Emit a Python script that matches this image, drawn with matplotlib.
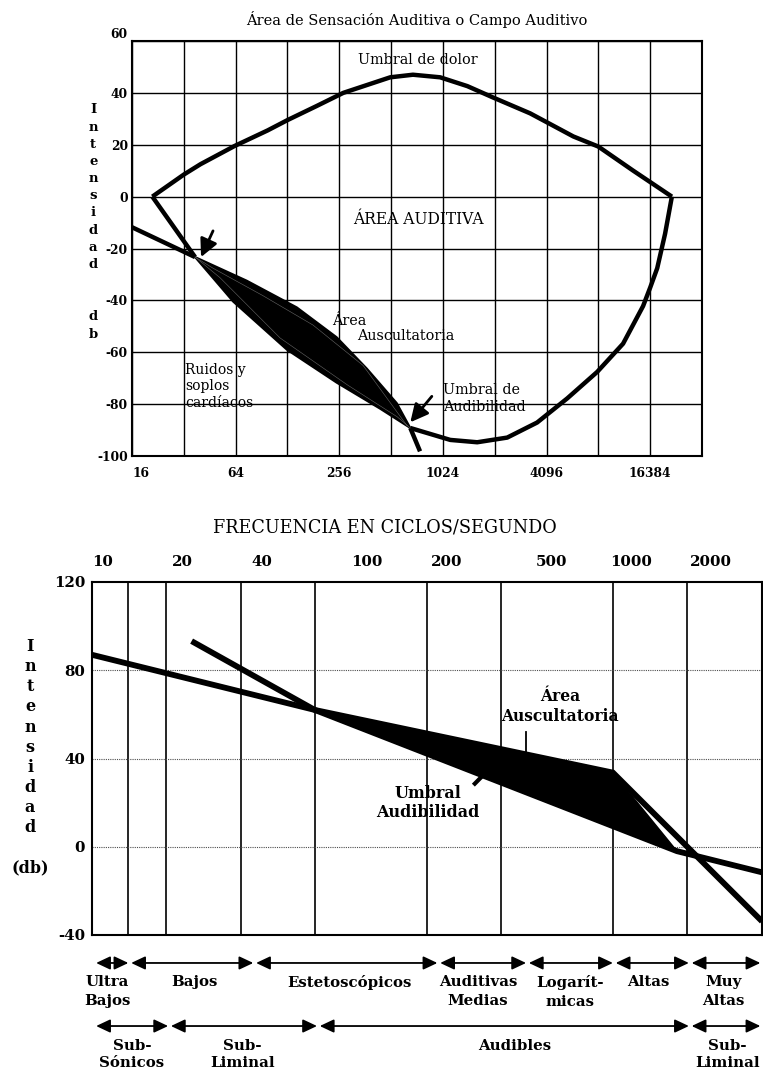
import numpy as np
import matplotlib
matplotlib.use("Agg")
import matplotlib.pyplot as plt

plt.rcParams['font.family'] = ['DejaVu Serif']

# ---------------- top chart data (Hz, dB) ----------------
pain_hz = [21, 32, 40, 63, 98, 128, 190, 270, 506, 686, 987, 1420, 2006, 3290, 4130, 5860, 8190, 13060, 21900]
pain_db = [0, 8.5, 12.5, 19.5, 25.5, 29.5, 35, 40, 46, 47, 46, 42.6, 38.2, 32.1, 28.6, 23.2, 19.3, 10, 0]

bowl_hz = [21900, 20000, 18000, 16400, 14900, 11400, 8060, 5400, 3610, 2420, 1620, 1130, 662]
bowl_db = [0, -14.3, -27.6, -35, -42.2, -56.7, -67.6, -77.8, -87.1, -92.9, -94.7, -93.8, -89.2]

left_branch_hz = [21, 37.2]
left_branch_db = [0, -23.3]

line2_hz = [16, 37.2]
line2_db = [-11.8, -23.3]
tail_hz = [662, 754]
tail_db = [-89.2, -98.2]

# auscultatory lens (outline and the faint inner strokes)
lens_up_hz = [37.2, 74.2, 145, 247, 370, 552, 662]
lens_up_db = [-23.3, -32.4, -42.7, -54.2, -66.3, -79.6, -89.2]
lens_lo_hz = [37.2, 62, 127, 247, 443, 662]
lens_lo_db = [-23.3, -40.5, -59, -71.7, -81.8, -89.2]
inner1_hz = [37.2, 47.3, 92.3, 180, 352, 635]
inner1_db = [-23.3, -27.6, -38.2, -49.5, -65.1, -88.4]
inner2_hz = [37.2, 52, 116, 284, 556, 662]
inner2_db = [-23.3, -31.3, -54.5, -72.5, -84.9, -89.2]

top_xticks = [16, 64, 256, 1024, 4096, 16384]
octaves = [16 * 2 ** k for k in range(12)]
top_yticks = list(range(-100, 61, 20))

# ---------------- bottom chart data (Hz, dB) ----------------
lineA_hz = [9.11, 63.5, 853, 3126]
lineA_db = [87, 62, 33.6, -33.8]
lineB_hz = [21.7, 63.5, 1490, 3126]
lineB_db = [93.2, 62, -2, -11.6]
wedge_hz = [63.5, 853, 1490]
wedge_db = [62, 33.6, -2]

bot_xticks = [10, 20, 40, 100, 200, 500, 1000, 2000]
bot_vlines = [12.5, 17.3, 33.3, 63.5, 169, 322, 853, 1630]
bot_yticks = [-40, 0, 40, 80, 120]

row1_bounds = [9.33, 12.66, 37.6, 187, 405, 863, 1673, 3120]
row1_labels = ["Ultra\nBajos", "Bajos", "Estetoscópicos", "Auditivas\nMedias",
               "Logarít-\nmicas", "Altas", "Muy\nAltas"]
row1_pos = [10.4, 22.3, 86, 263, 588, 1160, 2230]
row2_bounds = [9.33, 17.9, 65.5, 1673, 3120]
row2_labels = ["Sub-\nSónicos", "Sub-\nLiminal", "Audibles", "Sub-\nLiminal"]
row2_pos = [12.9, 33.9, 363, 2310]

W, H = 763, 1077
fig = plt.figure(figsize=(W / 100, H / 100), dpi=100)

# ================= top chart =================
ax1 = fig.add_axes([132 / W, 1 - 456 / H, 570 / W, 415 / H])
ax1.set_xscale('log', base=2)
ax1.set_xlim(16, 32768)
ax1.set_ylim(-100, 60)
ax1.set_xticks(octaves)
ax1.set_xticklabels([str(v) if v in top_xticks else '' for v in octaves],
                    fontsize=8.8, fontweight='bold')
ax1.xaxis.set_minor_locator(matplotlib.ticker.NullLocator())
ax1.set_yticks(top_yticks)
ax1.set_yticklabels([str(v) for v in top_yticks], fontsize=8.8, fontweight='bold')
ax1.tick_params(length=0, pad=3)
ax1.tick_params(axis='x', pad=8)
ax1.xaxis.get_ticklabels()[0].set_horizontalalignment('left')
ax1.yaxis.get_ticklabels()[-1].set_verticalalignment('bottom')
ax1.grid(True, color='black', lw=1.0)
for s in ax1.spines.values():
    s.set_linewidth(1.5)

ax1.plot(pain_hz, pain_db, color='black', lw=3.2, solid_joinstyle='round', solid_capstyle='butt')
ax1.plot(bowl_hz, bowl_db, color='black', lw=3.2, solid_joinstyle='round', solid_capstyle='butt')
ax1.plot(left_branch_hz, left_branch_db, color='black', lw=3.2, solid_capstyle='butt')
ax1.plot(line2_hz, line2_db, color='black', lw=3.2, solid_capstyle='butt')
ax1.plot(tail_hz, tail_db, color='black', lw=3.2, solid_capstyle='butt')
lens_x = lens_up_hz + lens_lo_hz[::-1]
lens_y = lens_up_db + lens_lo_db[::-1]
ax1.fill(lens_x, lens_y, color='black', lw=1.5, zorder=3)
ax1.plot(inner1_hz, inner1_db, color='0.4', lw=0.4, zorder=4)
ax1.plot(inner2_hz, inner2_db, color='0.4', lw=0.4, zorder=4)

arrow_kw = dict(arrowstyle='-|>,head_length=0.9,head_width=0.45', color='black', lw=2,
                mutation_scale=12, shrinkA=0, shrinkB=0)
ax1.annotate('', xy=(40.3, -23.3), xytext=(47.3, -13.2), arrowprops=arrow_kw)
ax1.annotate('', xy=(662, -87), xytext=(883, -77), arrowprops=arrow_kw)

ax1.text(735, 52.8, "Umbral de dolor", ha='center', va='center', fontsize=10.4)
ax1.text(735, -8.9, "ÁREA AUDITIVA", ha='center', va='center', fontsize=11.2)
ax1.text(232, -48, "Área", ha='left', va='center', fontsize=10.4)
ax1.text(324, -53.8, "Auscultatoria", ha='left', va='center', fontsize=10.4)
ax1.text(32.5, -64, "Ruidos y\nsoplos\ncardíacos", ha='left', va='top', fontsize=10, linespacing=1.25)
ax1.text(1024, -72, "Umbral de\nAudibilidad", ha='left', va='top', fontsize=10.4, linespacing=1.2)

for i, ch in enumerate("Intensidad"):
    ax1.text(-0.068, 0.834 - i * 0.0414, ch, transform=ax1.transAxes,
             ha='center', va='center', fontsize=9.5, fontweight='bold')
ax1.text(-0.068, 0.335, "d", transform=ax1.transAxes, ha='center', va='center', fontsize=9.5, fontweight='bold')
ax1.text(-0.068, 0.292, "b", transform=ax1.transAxes, ha='center', va='center', fontsize=9.5, fontweight='bold')

fig.text(417 / W, 1 - 20 / H, "Área de Sensación Auditiva o Campo Auditivo",
         ha='center', va='center', fontsize=10.5)
fig.text(385 / W, 1 - 527 / H, "FRECUENCIA EN CICLOS/SEGUNDO",
         ha='center', va='center', fontsize=12.7)

# ================= bottom chart =================
ax2 = fig.add_axes([92 / W, 1 - 935 / H, 670 / W, 353 / H])
ax2.set_xscale('log')
ax2.set_xlim(9.11, 3126)
ax2.set_ylim(-40, 120)
ax2.xaxis.tick_top()
ax2.set_xticks(bot_xticks)
ax2.set_xticklabels([str(v) for v in bot_xticks], fontsize=10.8, fontweight='bold')
ax2.xaxis.set_minor_locator(matplotlib.ticker.NullLocator())
ax2.set_yticks(bot_yticks)
ax2.set_yticklabels([str(v) for v in bot_yticks], fontsize=10.8, fontweight='bold')
ax2.tick_params(length=0, pad=5)
ax2.tick_params(axis='x', pad=9)
for s in ax2.spines.values():
    s.set_linewidth(1.5)
for v in bot_vlines:
    ax2.axvline(v, color='black', lw=1.2)
for v in [0, 40, 80]:
    ax2.axhline(v, color='0.3', lw=0.8, linestyle=(0, (1, 1)))

ax2.fill(wedge_hz, wedge_db, color='black', lw=1, zorder=3)
ax2.plot(lineA_hz, lineA_db, color='black', lw=4.2, solid_capstyle='butt', solid_joinstyle='miter', zorder=4)
ax2.plot(lineB_hz, lineB_db, color='black', lw=4.2, solid_capstyle='butt', solid_joinstyle='miter', zorder=4)
ax2.plot([400, 400], [52, 42], color='black', lw=1.3)
ax2.plot([256, 273], [28.6, 32], color='black', lw=3)

ax2.text(538, 63.5, "Área\nAuscultatoria", ha='center', va='center', fontsize=11.2,
         fontweight='bold', linespacing=1.2)
ax2.text(170, 19.8, "Umbral\nAudibilidad", ha='center', va='center', fontsize=11.5,
         fontweight='bold', linespacing=1.2)

for i, ch in enumerate("Intensidad"):
    ax2.text(-0.0925, 0.816 - i * 0.0567, ch, transform=ax2.transAxes,
             ha='center', va='center', fontsize=11.5, fontweight='bold')
ax2.text(-0.0925, 0.19, "(db)", transform=ax2.transAxes, ha='center', va='center',
         fontsize=11.5, fontweight='bold')

# ================= range arrows =================
ax3 = fig.add_axes([92 / W, 0, 670 / W, 142 / H])
ax3.set_xscale('log')
ax3.set_xlim(9.11, 3126)
ax3.set_ylim(0, 1)
ax3.axis('off')

rng_kw = dict(arrowstyle='<|-|>,head_length=0.85,head_width=0.4', color='black', lw=1.3,
              mutation_scale=10, shrinkA=1, shrinkB=1)
for a, b in zip(row1_bounds[:-1], row1_bounds[1:]):
    ax3.annotate('', xy=(b, 0.803), xytext=(a, 0.803), arrowprops=rng_kw)
for a, b in zip(row2_bounds[:-1], row2_bounds[1:]):
    ax3.annotate('', xy=(b, 0.359), xytext=(a, 0.359), arrowprops=rng_kw)
for x, t in zip(row1_pos, row1_labels):
    ax3.text(x, 0.72, t, ha='center', va='top', fontsize=10.8, fontweight='bold', linespacing=1.45)
for x, t in zip(row2_pos, row2_labels):
    ax3.text(x, 0.27, t, ha='center', va='top', fontsize=10.8, fontweight='bold', linespacing=1.3)

fig.savefig("out.png", dpi=100, facecolor='white')
